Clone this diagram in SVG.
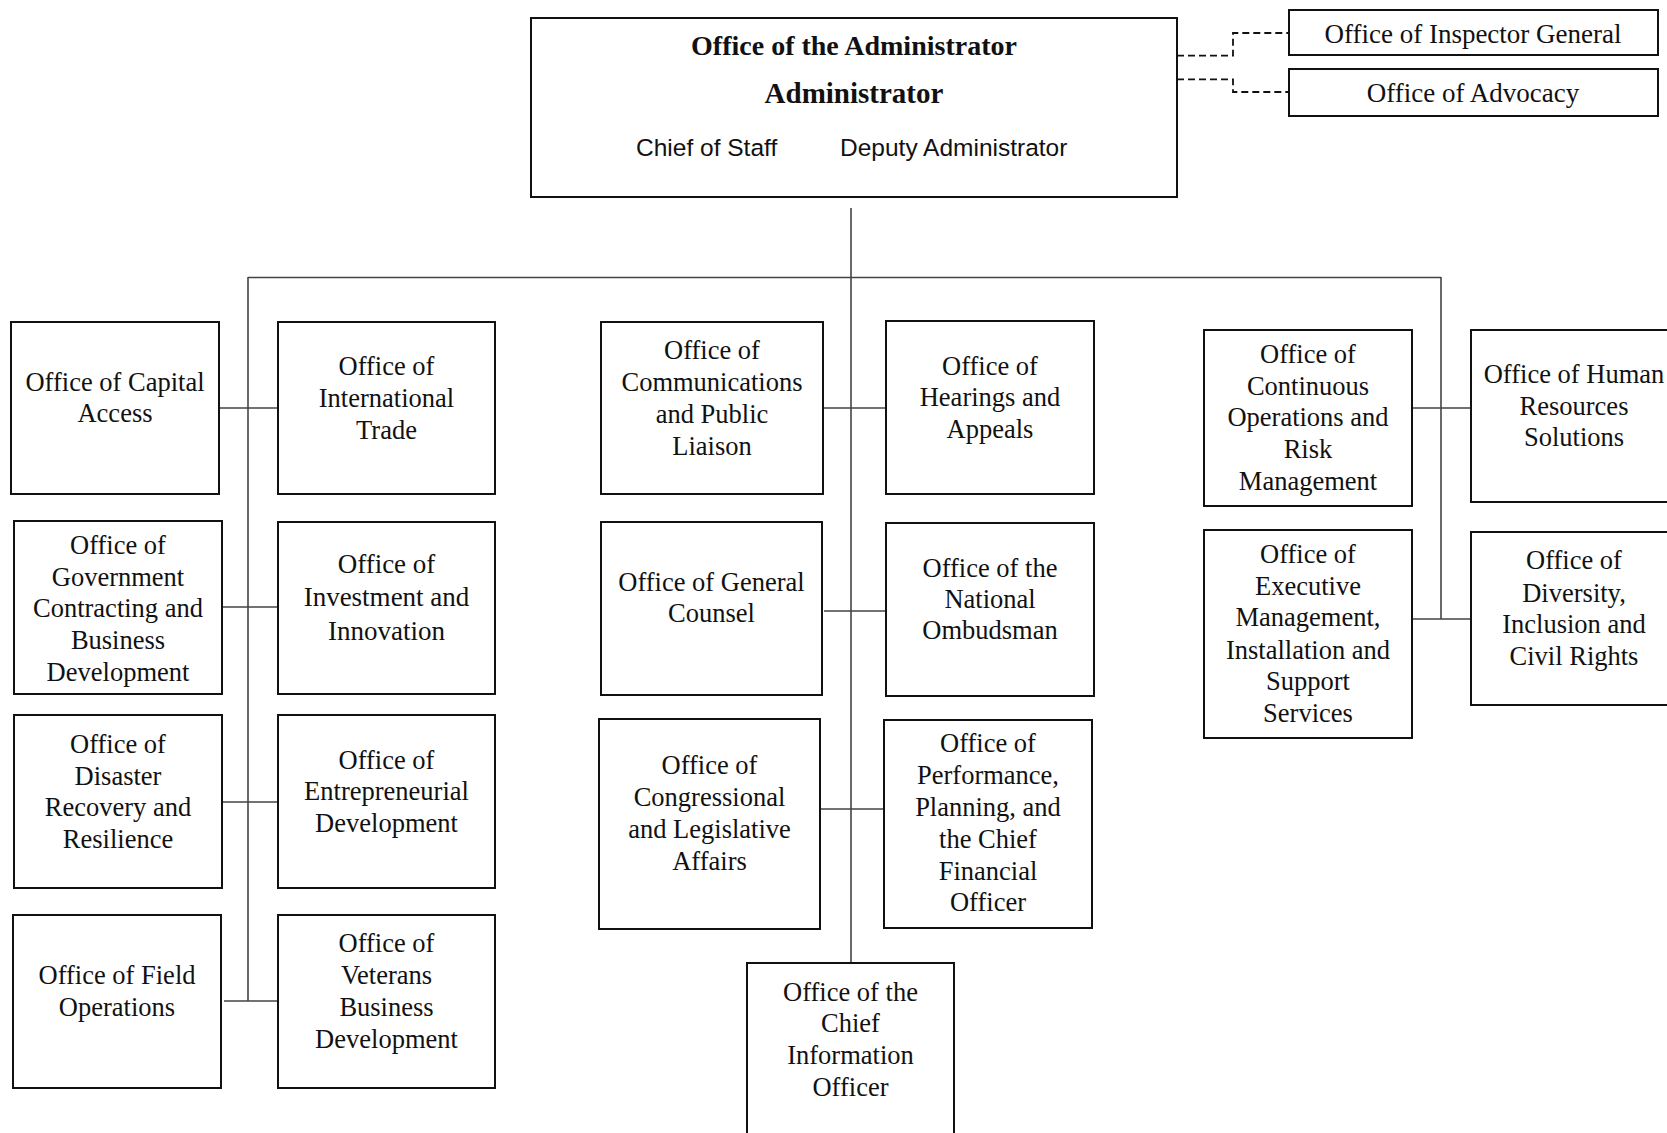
<svg xmlns="http://www.w3.org/2000/svg" width="1667" height="1133" viewBox="0 0 1667 1133">
<style>
.box{fill:#fff;stroke:#111;stroke-width:2}
.ln{fill:none;stroke:#444;stroke-width:1.6}
.dash{fill:none;stroke:#111;stroke-width:1.8;stroke-dasharray:7 4}
.t{font-family:"Liberation Serif","Times New Roman",serif;font-size:26.5px;fill:#111;text-anchor:middle}
.tl{font-size:27px}
.b{font-family:"Liberation Serif","Times New Roman",serif;font-size:28px;font-weight:bold;fill:#111;text-anchor:middle}
.b2{font-size:29px}
.s{font-family:"Liberation Sans",Arial,sans-serif;font-size:24.5px;fill:#111}
</style>
<rect width="1667" height="1133" fill="#fff"/>
<g id="connectors">
<path class="ln" d="M851,208V963"/>
<path class="ln" d="M248,277.5H1441"/>
<path class="ln" d="M248,277V1001"/>
<path class="ln" d="M1441,277V619"/>
<path class="ln" d="M219,408H278M222,607H278M222,802H278M224,1001H281"/>
<path class="ln" d="M821,408H886M824,611H886M820,809H884"/>
<path class="ln" d="M1412,408H1471M1412,619H1471"/>
<path class="dash" d="M1177,55.7H1233V33H1289"/>
<path class="dash" d="M1177,79.3H1233V92H1289"/>
</g>
<g id="admin">
<rect class="box" x="531" y="18" width="646" height="179"/>
<text class="b" x="854" y="55">Office of the Administrator</text>
<text class="b b2" x="854" y="103">Administrator</text>
<text class="s" x="636" y="156">Chief of Staff</text>
<text class="s" x="840" y="156">Deputy Administrator</text>
</g>
<g id="ig">
<rect class="box" x="1289" y="10" width="369" height="45"/>
<text class="t tl" x="1473" y="42.5">Office of Inspector General</text>
</g>
<g id="advocacy">
<rect class="box" x="1289" y="69" width="369" height="47"/>
<text class="t tl" x="1473" y="102">Office of Advocacy</text>
</g>
<g id="capital">
<rect class="box" x="11" y="322" width="208" height="172"/>
<text class="t" x="115"><tspan x="115" y="390.5">Office of Capital</tspan><tspan x="115" y="422">Access</tspan></text>
</g>
<g id="intl">
<rect class="box" x="278" y="322" width="217" height="172"/>
<text class="t" x="386.5"><tspan x="386.5" y="375">Office of</tspan><tspan x="386.5" y="407">International</tspan><tspan x="386.5" y="439">Trade</tspan></text>
</g>
<g id="gov">
<rect class="box" x="14" y="521" width="208" height="173"/>
<text class="t" x="118"><tspan x="118" y="553.5">Office of</tspan><tspan x="118" y="585.5">Government</tspan><tspan x="118" y="617">Contracting and</tspan><tspan x="118" y="649">Business</tspan><tspan x="118" y="681">Development</tspan></text>
</g>
<g id="invest">
<rect class="box" x="278" y="522" width="217" height="172"/>
<text class="t tl" x="386.5"><tspan x="386.5" y="572.5">Office of</tspan><tspan x="386.5" y="606">Investment and</tspan><tspan x="386.5" y="639.5">Innovation</tspan></text>
</g>
<g id="disaster">
<rect class="box" x="14" y="715" width="208" height="173"/>
<text class="t" x="118"><tspan x="118" y="753">Office of</tspan><tspan x="118" y="785">Disaster</tspan><tspan x="118" y="816">Recovery and</tspan><tspan x="118" y="848">Resilience</tspan></text>
</g>
<g id="entre">
<rect class="box" x="278" y="715" width="217" height="173"/>
<text class="t" x="386.5"><tspan x="386.5" y="769">Office of</tspan><tspan x="386.5" y="800">Entrepreneurial</tspan><tspan x="386.5" y="832">Development</tspan></text>
</g>
<g id="field">
<rect class="box" x="13" y="915" width="208" height="173"/>
<text class="t" x="117"><tspan x="117" y="984">Office of Field</tspan><tspan x="117" y="1015.5">Operations</tspan></text>
</g>
<g id="veterans">
<rect class="box" x="278" y="915" width="217" height="173"/>
<text class="t" x="386.5"><tspan x="386.5" y="952">Office of</tspan><tspan x="386.5" y="984">Veterans</tspan><tspan x="386.5" y="1016">Business</tspan><tspan x="386.5" y="1048">Development</tspan></text>
</g>
<g id="comm">
<rect class="box" x="601" y="322" width="222" height="172"/>
<text class="t" x="712"><tspan x="712" y="359">Office of</tspan><tspan x="712" y="391">Communications</tspan><tspan x="712" y="422.5">and Public</tspan><tspan x="712" y="454.5">Liaison</tspan></text>
</g>
<g id="hearings">
<rect class="box" x="886" y="321" width="208" height="173"/>
<text class="t" x="990"><tspan x="990" y="374.5">Office of</tspan><tspan x="990" y="406">Hearings and</tspan><tspan x="990" y="437.5">Appeals</tspan></text>
</g>
<g id="counsel">
<rect class="box" x="601" y="522" width="221" height="173"/>
<text class="t" x="711.5"><tspan x="711.5" y="590.5">Office of General</tspan><tspan x="711.5" y="622">Counsel</tspan></text>
</g>
<g id="ombudsman">
<rect class="box" x="886" y="523" width="208" height="173"/>
<text class="t" x="990"><tspan x="990" y="576.5">Office of the</tspan><tspan x="990" y="607.5">National</tspan><tspan x="990" y="639">Ombudsman</tspan></text>
</g>
<g id="congress">
<rect class="box" x="599" y="719" width="221" height="210"/>
<text class="t" x="709.5"><tspan x="709.5" y="774">Office of</tspan><tspan x="709.5" y="806">Congressional</tspan><tspan x="709.5" y="838">and Legislative</tspan><tspan x="709.5" y="869.5">Affairs</tspan></text>
</g>
<g id="performance">
<rect class="box" x="884" y="720" width="208" height="208"/>
<text class="t" x="988"><tspan x="988" y="752">Office of</tspan><tspan x="988" y="784">Performance,</tspan><tspan x="988" y="815.5">Planning, and</tspan><tspan x="988" y="847.5">the Chief</tspan><tspan x="988" y="879.5">Financial</tspan><tspan x="988" y="911">Officer</tspan></text>
</g>
<g id="cio">
<rect class="box" x="747" y="963" width="207" height="185"/>
<text class="t" x="850.5"><tspan x="850.5" y="1001">Office of the</tspan><tspan x="850.5" y="1032">Chief</tspan><tspan x="850.5" y="1063.5">Information</tspan><tspan x="850.5" y="1095.5">Officer</tspan></text>
</g>
<g id="continuity">
<rect class="box" x="1204" y="330" width="208" height="176"/>
<text class="t" x="1308"><tspan x="1308" y="362.5">Office of</tspan><tspan x="1308" y="394.5">Continuous</tspan><tspan x="1308" y="426">Operations and</tspan><tspan x="1308" y="457.5">Risk</tspan><tspan x="1308" y="489.5">Management</tspan></text>
</g>
<g id="hr">
<rect class="box" x="1471" y="330" width="206" height="172"/>
<text class="t" x="1574"><tspan x="1574" y="383">Office of Human</tspan><tspan x="1574" y="414.5">Resources</tspan><tspan x="1574" y="446">Solutions</tspan></text>
</g>
<g id="executive">
<rect class="box" x="1204" y="530" width="208" height="208"/>
<text class="t" x="1308"><tspan x="1308" y="562.5">Office of</tspan><tspan x="1308" y="594.5">Executive</tspan><tspan x="1308" y="626">Management,</tspan><tspan x="1308" y="658.5">Installation and</tspan><tspan x="1308" y="690">Support</tspan><tspan x="1308" y="722">Services</tspan></text>
</g>
<g id="diversity">
<rect class="box" x="1471" y="532" width="206" height="173"/>
<text class="t" x="1574"><tspan x="1574" y="569">Office of</tspan><tspan x="1574" y="601.5">Diversity,</tspan><tspan x="1574" y="633">Inclusion and</tspan><tspan x="1574" y="664.5">Civil Rights</tspan></text>
</g>
</svg>
